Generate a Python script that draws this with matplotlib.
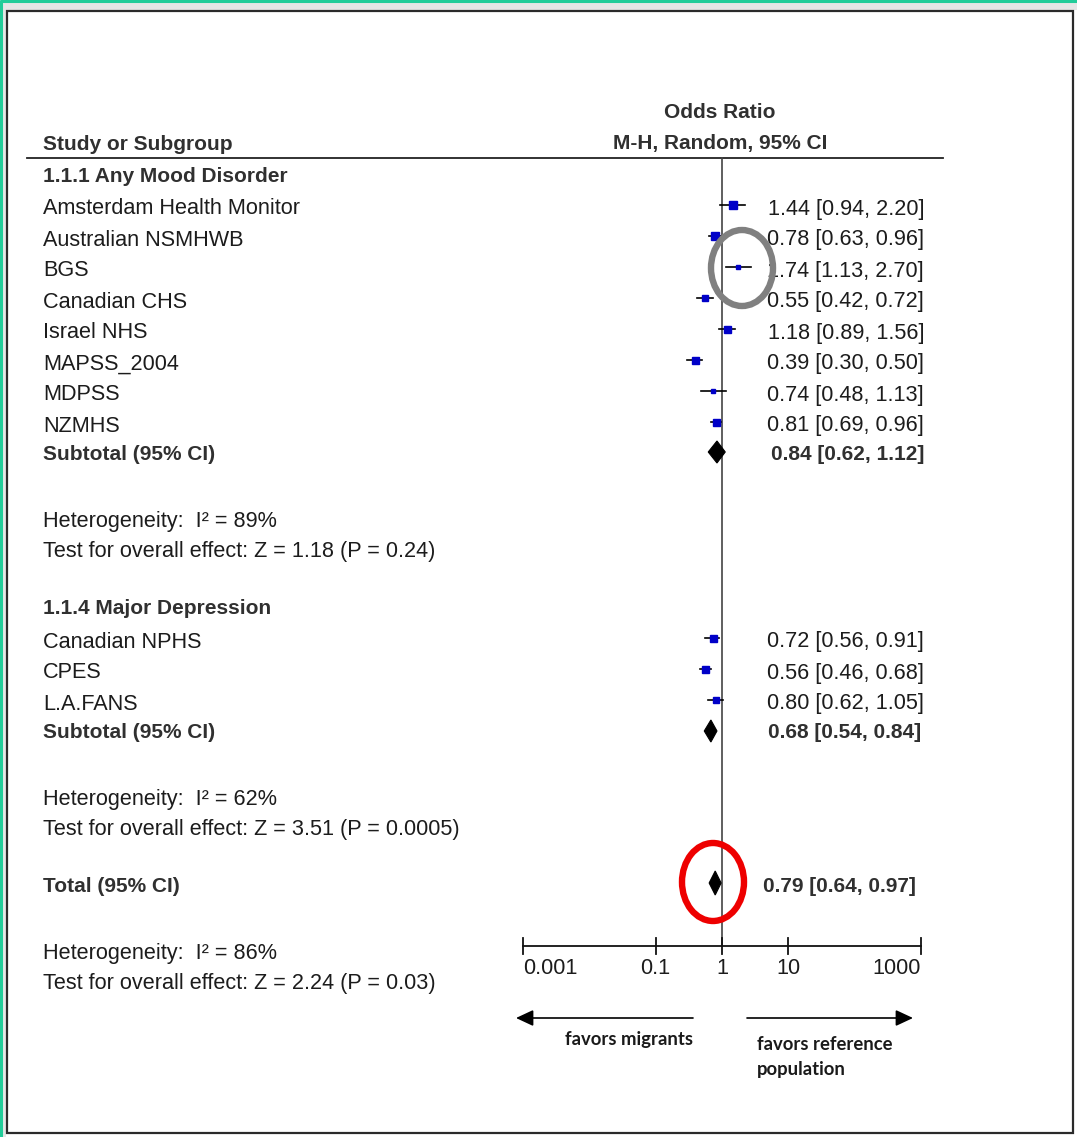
import matplotlib
matplotlib.use("Agg")
import matplotlib.pyplot as plt
from matplotlib.patches import Polygon, Ellipse, Rectangle, FancyArrowPatch
import numpy as np

# ---- data -------------------------------------------------------------
group1_name = "1.1.1 Any Mood Disorder"
group1_studies = ["Amsterdam Health Monitor", "Australian NSMHWB", "BGS", "Canadian CHS",
                  "Israel NHS", "MAPSS_2004", "MDPSS", "NZMHS"]
group1_or = [1.44, 0.78, 1.74, 0.55, 1.18, 0.39, 0.74, 0.81]
group1_lo = [0.94, 0.63, 1.13, 0.42, 0.89, 0.30, 0.48, 0.69]
group1_hi = [2.20, 0.96, 2.70, 0.72, 1.56, 0.50, 1.13, 0.96]
group1_sub = (0.84, 0.62, 1.12)
group1_het = "Heterogeneity:  I² = 89%"
group1_test = "Test for overall effect: Z = 1.18 (P = 0.24)"

group2_name = "1.1.4 Major Depression"
group2_studies = ["Canadian NPHS", "CPES", "L.A.FANS"]
group2_or = [0.72, 0.56, 0.80]
group2_lo = [0.56, 0.46, 0.62]
group2_hi = [0.91, 0.68, 1.05]
group2_sub = (0.68, 0.54, 0.84)
group2_het = "Heterogeneity:  I² = 62%"
group2_test = "Test for overall effect: Z = 3.51 (P = 0.0005)"

total = (0.79, 0.64, 0.97)
total_het = "Heterogeneity:  I² = 86%"
total_test = "Test for overall effect: Z = 2.24 (P = 0.03)"

tick_values = [0.001, 0.1, 1, 10, 1000]
tick_labels = ["0.001", "0.1", "1", "10", "1000"]

# ---- styling -----------------------------------------------------------
W, H = 1077, 1137
FONT = ["Liberation Sans", "DejaVu Sans"]
TXT = "#1c1c1c"
BOLD = "#303030"
BLUE = "#0000c8"
FS = 15.6
FSB = 15.0

# square side (px) for each study marker
box1 = [8, 8, 5, 6, 7, 7, 5, 7]
box2 = [7, 7, 6]

fig = plt.figure(figsize=(W / 100, H / 100), dpi=100)
fig.patch.set_facecolor("white")

bg = fig.add_axes([0, 0, 1, 1])
bg.set_xlim(0, W)
bg.set_ylim(H, 0)
bg.axis("off")

# window frame
bg.add_patch(Rectangle((0, 0), W, 10, facecolor="#e6e6e6", edgecolor="none", zorder=0))
bg.add_patch(Rectangle((0, 0), 6, H, facecolor="#e6e6e6", edgecolor="none", zorder=0))
bg.add_patch(Rectangle((7, 11), 1066, 1122, facecolor="white", edgecolor="#2a2a2a", lw=1.6, zorder=1))
bg.plot([0, W], [1, 1], color="#22cc99", lw=2.2, zorder=2, solid_capstyle="butt")
bg.plot([1, 1], [0, H], color="#22cc99", lw=2.2, zorder=2, solid_capstyle="butt")

# forest-plot axes on a log scale
x0_px, x1_px = 523, 921
fx = fig.add_axes([x0_px / W, 0, (x1_px - x0_px) / W, 1])
fx.set_xscale("log")
fx.set_xlim(tick_values[0], tick_values[-1])
fx.set_ylim(H, 0)
fx.axis("off")
fx.patch.set_alpha(0)

LEFT = 43
VAL_RIGHT = 924
DY = 2  # baseline nudge for text rows


def txt(x, y, s, bold=False, ha="left", size=None, color=None):
    bg.text(x, y + DY, s, ha=ha, va="center", family=FONT,
            fontsize=size or (FSB if bold else FS),
            fontweight="bold" if bold else "normal",
            color=color or (BOLD if bold else TXT), zorder=5)


def fmt(v):
    return f"{v[0]:.2f} [{v[1]:.2f}, {v[2]:.2f}]"


def diamond(y, est, lo, hi, half=11):
    fx.add_patch(Polygon([[lo, y], [est, y - half], [hi, y], [est, y + half]],
                         closed=True, facecolor="black", edgecolor="black", lw=0.8,
                         zorder=4, clip_on=False))


def study_row(y, name, est, lo, hi, box):
    txt(LEFT, y, name)
    txt(VAL_RIGHT, y, fmt((est, lo, hi)), ha="right")
    fx.plot([lo, hi], [y - 2, y - 2], color="black", lw=1.2, zorder=3, clip_on=False)
    fx.plot([est], [y - 2], marker="s", ms=box * 0.72, color=BLUE, mec=BLUE,
            zorder=4, clip_on=False)


# header
txt(720, 111, "Odds Ratio", bold=True, ha="center")
txt(720, 142, "M-H, Random, 95% CI", bold=True, ha="center")
txt(LEFT, 142, "Study or Subgroup", bold=True)
bg.plot([27, 943], [158, 158], color="#222222", lw=1.3, zorder=3)

# group 1
txt(LEFT, 174, group1_name, bold=True)
step = 31
for i, name in enumerate(group1_studies):
    study_row(207 + step * i, name, group1_or[i], group1_lo[i], group1_hi[i], box1[i])
txt(LEFT, 452, "Subtotal (95% CI)", bold=True)
txt(VAL_RIGHT, 452, fmt(group1_sub), bold=True, ha="right")
diamond(452, *group1_sub)
txt(LEFT, 519, group1_het)
txt(LEFT, 549, group1_test)

# group 2
txt(LEFT, 607, group2_name, bold=True)
for i, name in enumerate(group2_studies):
    study_row(640 + step * i, name, group2_or[i], group2_lo[i], group2_hi[i], box2[i])
txt(LEFT, 731, "Subtotal (95% CI)", bold=True)
txt(921, 731, fmt(group2_sub), bold=True, ha="right")
diamond(731, *group2_sub)
txt(LEFT, 798, group2_het)
txt(LEFT, 828, group2_test)

# overall
txt(LEFT, 884, "Total (95% CI)", bold=True)
txt(916, 884, fmt(total), bold=True, ha="right")
diamond(883, *total, half=12)
txt(LEFT, 951, total_het)
txt(LEFT, 982, total_test)

# line of no effect
fx.plot([1, 1], [158, 946], color="#444444", lw=1.2, zorder=2, clip_on=False)

# scale
axis_y = 946
fx.plot([tick_values[0], tick_values[-1]], [axis_y, axis_y], color="#111111", lw=1.3,
        clip_on=False, zorder=3)
for v, lab in zip(tick_values, tick_labels):
    fx.plot([v, v], [axis_y - 8, axis_y + 8], color="#111111", lw=1.3, clip_on=False, zorder=3)
    ha = "left" if v == tick_values[0] else ("right" if v == tick_values[-1] else "center")
    fx.text(v, 968, lab, ha=ha, va="center", family=FONT, fontsize=FS, color=TXT)

# direction arrows
for (xa, xb) in [(693, 516), (747, 913)]:
    bg.add_patch(FancyArrowPatch((xa, 1018), (xb, 1018),
                                 arrowstyle="-|>,head_length=0.75,head_width=0.35",
                                 mutation_scale=14, color="black", lw=1.2,
                                 shrinkA=0, shrinkB=0, zorder=4))
LBL = dict(ha="left", va="center", family="Lato", fontweight="bold",
           fontsize=13.3, color="#1a1a1a")
bg.text(565, 1040, "favors migrants", **LBL)
bg.text(757, 1044, "favors reference", **LBL)
bg.text(757, 1069, "population", **LBL)

# highlight rings
top = fig.add_axes([0, 0, 1, 1])
top.set_xlim(0, W)
top.set_ylim(H, 0)
top.axis("off")
top.patch.set_alpha(0)
top.add_patch(Ellipse((742, 268), 62, 76, fill=False, edgecolor="#808080", lw=4.6, zorder=6))
top.add_patch(Ellipse((713, 882), 62, 78, fill=False, edgecolor="#ee0000", lw=4.6, zorder=6))

fig.savefig("out.png", dpi=100, facecolor="white")
